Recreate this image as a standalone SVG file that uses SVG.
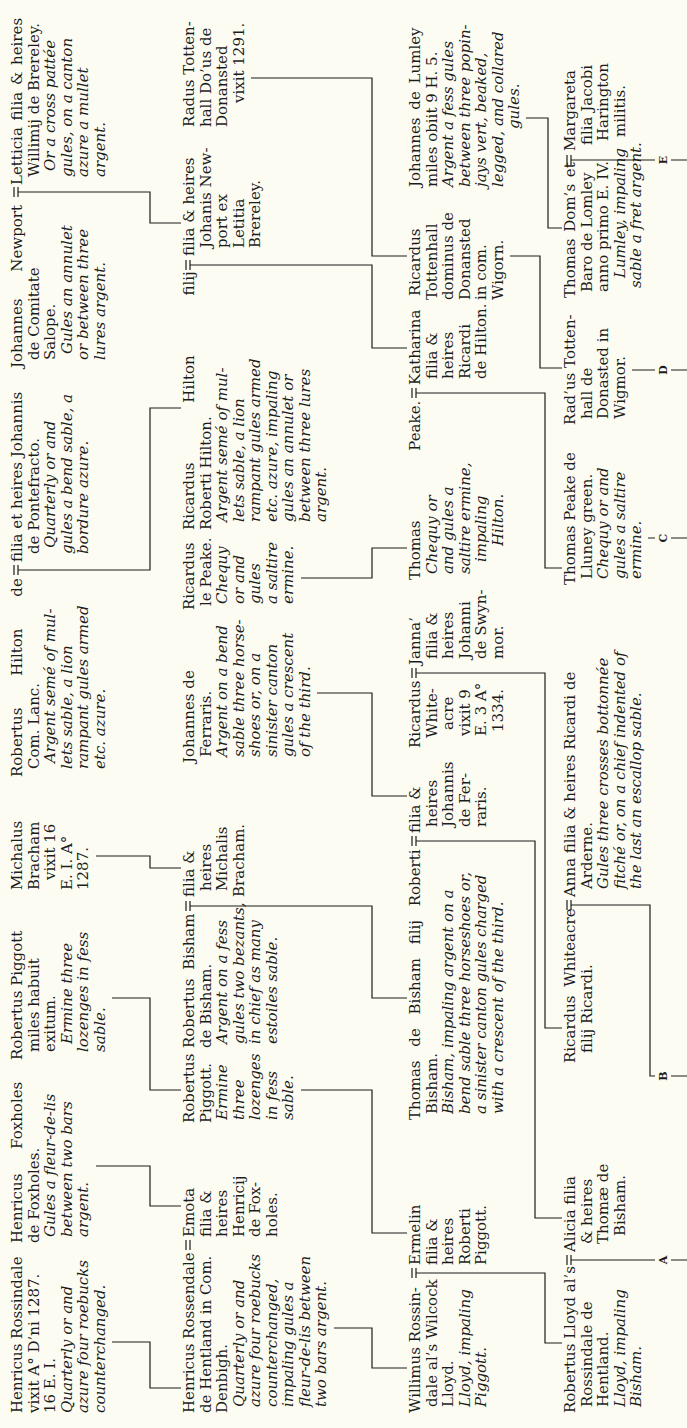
<svg xmlns="http://www.w3.org/2000/svg" xmlns:xlink="http://www.w3.org/1999/xlink" width="687" height="1428" viewBox="0 0 687 1428">
<style>
.r{font-family:"DejaVu Serif",serif;font-size:15px;fill:#1c1c1c}
.i{font-family:"DejaVu Serif",serif;font-size:15px;font-style:italic;fill:#1c1c1c}
.c{fill:none;stroke:#1c1c1c;stroke-width:1.2}
.l{font-family:"DejaVu Serif",serif;font-size:11px;font-weight:bold;fill:#1c1c1c;text-anchor:middle}
</style>
<defs>
<path id="m2" class="c" d="M-5,-8H5M-5,-4H5"/>
<path id="m3" class="c" d="M-5,-8H5M-5,-4H5M0,-4V2"/>
</defs>
<rect width="687" height="1428" fill="#fdfcf3"/>
<g transform="translate(0,1428) rotate(-90)">
<!-- Generation 1 -->
<g id="henricus-rossindale" transform="translate(15,22)">
<text class="r" x="0" y="0">Henricus Rossindale</text>
<text class="r" x="0" y="16.5">vixit A° D’ni 1287.</text>
<text class="r" x="0" y="33">16 E. I.</text>
<text class="i" x="0" y="49.5">Quarterly or and</text>
<text class="i" x="0" y="66">azure four roebucks</text>
<text class="i" x="0" y="82.5">counterchanged.</text>
</g>
<g id="henricus-foxholes" transform="translate(185,22)">
<text class="r" x="0" y="0" word-spacing="20">Henricus Foxholes</text>
<text class="r" x="0" y="16.5">de Foxholes.</text>
<text class="i" x="6" y="33">Gules a fleur-de-lis</text>
<text class="i" x="6" y="49.5">between two bars</text>
<text class="i" x="6" y="66">argent.</text>
</g>
<g id="robertus-piggott-senior" transform="translate(368,22)">
<text class="r" x="0" y="0">Robertus Piggott</text>
<text class="r" x="8" y="16.5">miles habuit</text>
<text class="r" x="8" y="33">exitum.</text>
<text class="i" x="16" y="49.5">Ermine three</text>
<text class="i" x="8" y="66">lozenges in fess</text>
<text class="i" x="8" y="82.5">sable.</text>
</g>
<g id="michalus-bracham" transform="translate(538,22)">
<text class="r" x="0" y="0">Michalus</text>
<text class="r" x="0" y="16.5">Bracham</text>
<text class="r" x="10" y="33">vixit 16</text>
<text class="r" x="0" y="49.5">E. I. A°</text>
<text class="r" x="0" y="66">1287.</text>
</g>
<g id="robertus-hilton" transform="translate(651,22)">
<text class="r" x="0" y="0" word-spacing="27">Robertus Hilton de</text>
<text class="r" x="8" y="16.5">Com. Lanc.</text>
<text class="i" x="14" y="33">Argent semé of mul-</text>
<text class="i" x="8" y="49.5">lets sable, a lion</text>
<text class="i" x="8" y="66">rampant gules armed</text>
<text class="i" x="8" y="82.5">etc. azure.</text>
</g>
<g id="filia-pontefracto" transform="translate(866,22)">
<text class="r" x="0" y="0">filia et heires Johannis</text>
<text class="r" x="8" y="16.5">de Pontefracto.</text>
<text class="i" x="14" y="33">Quarterly or and</text>
<text class="i" x="8" y="49.5">gules a bend sable, a</text>
<text class="i" x="8" y="66">bordure azure.</text>
</g>
<g id="johannes-newport" transform="translate(1060,22)">
<text class="r" x="0" y="0" word-spacing="22">Johannes Newport</text>
<text class="r" x="8" y="16.5">de Comitate</text>
<text class="r" x="8" y="33">Salope.</text>
<text class="i" x="14" y="49.5">Gules an annulet</text>
<text class="i" x="8" y="66">or between three</text>
<text class="i" x="8" y="82.5">lures argent.</text>
</g>
<g id="letticia" transform="translate(1243,22)">
<text class="r" x="0" y="0" word-spacing="2">Letticia filia &amp; heires</text>
<text class="r" x="8" y="16.5">Willimij de Brereley.</text>
<text class="i" x="14" y="33">Or a cross pattée</text>
<text class="i" x="8" y="49.5">gules, on a canton</text>
<text class="i" x="8" y="66">azure a mullet</text>
<text class="i" x="8" y="82.5">argent.</text>
</g>
<!-- Generation 2 -->
<g id="henricus-rossendale" transform="translate(15,194)">
<text class="r" x="0" y="0">Henricus Rossendale</text>
<text class="r" x="0" y="16.5">de Hentland in Com.</text>
<text class="r" x="0" y="33">Denbigh.</text>
<text class="i" x="6" y="49.5">Quarterly or and</text>
<text class="i" x="6" y="66">azure four roebucks</text>
<text class="i" x="6" y="82.5">counterchanged,</text>
<text class="i" x="6" y="99">impaling gules a</text>
<text class="i" x="6" y="115.5">fleur-de-lis between</text>
<text class="i" x="6" y="132">two bars argent.</text>
</g>
<g id="emota" transform="translate(191,194)">
<text class="r" x="0" y="0">Emota</text>
<text class="r" x="0" y="16.5">filia &amp;</text>
<text class="r" x="0" y="33">heires</text>
<text class="r" x="0" y="49.5">Henricij</text>
<text class="r" x="0" y="66">de Fox-</text>
<text class="r" x="0" y="82.5">holes.</text>
</g>
<g id="robertus-piggott" transform="translate(305,194)">
<text class="r" x="0" y="0">Robertus</text>
<text class="r" x="0" y="16.5">Piggott.</text>
<text class="i" x="3" y="33">Ermine</text>
<text class="i" x="3" y="49.5">three</text>
<text class="i" x="3" y="66">lozenges</text>
<text class="i" x="3" y="82.5">in fess</text>
<text class="i" x="3" y="99">sable.</text>
</g>
<g id="robertus-bisham" transform="translate(380,194)">
<text class="r" x="0" y="0" word-spacing="4">Robertus Bisham</text>
<text class="r" x="0" y="16.5">de Bisham.</text>
<text class="i" x="4" y="33">Argent on a fess</text>
<text class="i" x="4" y="49.5">gules two bezants,</text>
<text class="i" x="4" y="66">in chief as many</text>
<text class="i" x="4" y="82.5">estoiles sable.</text>
</g>
<g id="filia-michalis" transform="translate(531,194)">
<text class="r" x="0" y="0">filia &amp;</text>
<text class="r" x="6" y="16.5">heires</text>
<text class="r" x="6" y="33">Michalis</text>
<text class="r" x="0" y="49.5">Bracham.</text>
</g>
<g id="johannes-ferraris" transform="translate(665,194)">
<text class="r" x="0" y="0">Johannes de</text>
<text class="r" x="6" y="16.5">Ferraris.</text>
<text class="i" x="6" y="33">Argent on a bend</text>
<text class="i" x="6" y="49.5">sable three horse-</text>
<text class="i" x="6" y="66">shoes or, on a</text>
<text class="i" x="6" y="82.5">sinister canton</text>
<text class="i" x="6" y="99">gules a crescent</text>
<text class="i" x="6" y="115.5">of the third.</text>
</g>
<g id="ricardus-le-peake" transform="translate(818,194)">
<text class="r" x="0" y="0">Ricardus</text>
<text class="r" x="4" y="16.5">le Peake.</text>
<text class="i" x="6" y="33">Chequy</text>
<text class="i" x="6" y="49.5">or and</text>
<text class="i" x="6" y="66">gules</text>
<text class="i" x="6" y="82.5">a saltire</text>
<text class="i" x="6" y="99">ermine.</text>
</g>
<g id="ricardus-hilton" transform="translate(898,194)">
<text class="r" x="0" y="0" word-spacing="55">Ricardus Hilton filij</text>
<text class="r" x="0" y="16.5">Roberti Hilton.</text>
<text class="i" x="8" y="33">Argent semé of mul-</text>
<text class="i" x="8" y="49.5">lets sable, a lion</text>
<text class="i" x="8" y="66">rampant gules armed</text>
<text class="i" x="8" y="82.5">etc. azure, impaling</text>
<text class="i" x="8" y="99">gules an annulet or</text>
<text class="i" x="8" y="115.5">between three lures</text>
<text class="i" x="8" y="132">argent.</text>
</g>
<g id="filia-newport" transform="translate(1172,194)">
<text class="r" x="0" y="0">filia &amp; heires</text>
<text class="r" x="8" y="16.5">Johanis New-</text>
<text class="r" x="8" y="33">port ex</text>
<text class="r" x="8" y="49.5">Letitia</text>
<text class="r" x="8" y="66">Brereley.</text>
</g>
<g id="radus-tottenhall" transform="translate(1301,194)">
<text class="r" x="0" y="0">Radus Totten-</text>
<text class="r" x="0" y="16.5">hall Do’us de</text>
<text class="r" x="0" y="33">Donansted</text>
<text class="r" x="24" y="49.5">vixit 1291.</text>
</g>
<!-- Generation 3 -->
<g id="willimus-rossindale" transform="translate(15,420)">
<text class="r" x="0" y="0">Willimus Rossin-</text>
<text class="r" x="6" y="16.5">dale al’s Wilcock</text>
<text class="r" x="6" y="33">Lloyd.</text>
<text class="i" x="6" y="49.5">Lloyd, impaling</text>
<text class="i" x="6" y="66">Piggott.</text>
</g>
<g id="ermelin" transform="translate(163,420)">
<text class="r" x="0" y="0">Ermelin</text>
<text class="r" x="0" y="16.5">filia &amp;</text>
<text class="r" x="0" y="33">heires</text>
<text class="r" x="0" y="49.5">Roberti</text>
<text class="r" x="0" y="66">Piggott.</text>
</g>
<g id="thomas-de-bisham" transform="translate(308,420)">
<text class="r" x="0" y="0" word-spacing="9">Thomas de Bisham filij Roberti</text>
<text class="r" x="6" y="16.5">Bisham.</text>
<text class="i" x="6" y="33">Bisham, impaling argent on a</text>
<text class="i" x="6" y="49.5">bend sable three horseshoes or,</text>
<text class="i" x="6" y="66">a sinister canton gules charged</text>
<text class="i" x="6" y="82.5">with a crescent of the third.</text>
</g>
<g id="filia-ferraris" transform="translate(595,420)">
<text class="r" x="0" y="0">filia &amp;</text>
<text class="r" x="6" y="16.5">heires</text>
<text class="r" x="6" y="33">Johannis</text>
<text class="r" x="6" y="49.5">de Fer-</text>
<text class="r" x="6" y="66">raris.</text>
</g>
<g id="ricardus-whiteacre-senior" transform="translate(680,420)">
<text class="r" x="0" y="0">Ricardus</text>
<text class="r" x="10" y="16.5">White-</text>
<text class="r" x="18" y="33">acre</text>
<text class="r" x="12" y="49.5">vixit 9</text>
<text class="r" x="12" y="66">E. 3 A°</text>
<text class="r" x="16" y="82.5">1334.</text>
</g>
<g id="janna" transform="translate(763,420)">
<text class="r" x="0" y="0">Janna’</text>
<text class="r" x="6" y="16.5">filia &amp;</text>
<text class="r" x="6" y="33">heires</text>
<text class="r" x="6" y="49.5">Johanni</text>
<text class="r" x="6" y="66">de Swyn-</text>
<text class="r" x="6" y="82.5">mor.</text>
</g>
<g id="thomas-peake-senior" transform="translate(848,420)">
<text class="r" x="0" y="0" word-spacing="65">Thomas Peake.</text>
<text class="i" x="6" y="16.5">Chequy or</text>
<text class="i" x="6" y="33">and gules a</text>
<text class="i" x="6" y="49.5">saltire ermine,</text>
<text class="i" x="18" y="66">impaling</text>
<text class="i" x="34" y="82.5">Hilton.</text>
</g>
<g id="katharina" transform="translate(1043,420)">
<text class="r" x="0" y="0">Katharina</text>
<text class="r" x="6" y="16.5">filia &amp;</text>
<text class="r" x="6" y="33">heires</text>
<text class="r" x="6" y="49.5">Ricardi</text>
<text class="r" x="6" y="66">de Hilton.</text>
</g>
<g id="ricardus-tottenhall" transform="translate(1128,420)">
<text class="r" x="4" y="0">Ricardus</text>
<text class="r" x="0" y="16.5">Tottenhall</text>
<text class="r" x="0" y="33">dominus de</text>
<text class="r" x="0" y="49.5">Donansted</text>
<text class="r" x="0" y="66">in com.</text>
<text class="r" x="0" y="82.5">Wigorn.</text>
</g>
<g id="johannes-de-lumley" transform="translate(1241,420)">
<text class="r" x="0" y="0" word-spacing="3">Johannes de Lumley</text>
<text class="r" x="0" y="16.5">miles obiit 9 H. 5.</text>
<text class="i" x="0" y="33">Argent a fess gules</text>
<text class="i" x="0" y="49.5">between three popin-</text>
<text class="i" x="0" y="66">jays vert, beaked,</text>
<text class="i" x="0" y="82.5">legged, and collared</text>
<text class="i" x="58" y="99">gules.</text>
</g>
<!-- Generation 4 -->
<g id="robertus-lloyd" transform="translate(15,575)">
<text class="r" x="0" y="0">Robertus Lloyd al’s</text>
<text class="r" x="6" y="16.5">Rossindale de</text>
<text class="r" x="6" y="33">Hentland.</text>
<text class="i" x="6" y="49.5">Lloyd, impaling</text>
<text class="i" x="6" y="66">Bisham.</text>
</g>
<g id="alicia" transform="translate(176,575)">
<text class="r" x="0" y="0">Alicia filia</text>
<text class="r" x="8" y="16.5">&amp; heires</text>
<text class="r" x="8" y="33">Thomæ de</text>
<text class="r" x="16" y="49.5">Bisham.</text>
</g>
<g id="ricardus-whiteacre" transform="translate(365,575)">
<text class="r" x="0" y="0" word-spacing="4">Ricardus Whiteacre</text>
<text class="r" x="10" y="16.5">filij Ricardi.</text>
</g>
<g id="anna" transform="translate(531,575)">
<text class="r" x="0" y="0">Anna filia &amp; heires Ricardi de</text>
<text class="r" x="8" y="16.5">Arderne.</text>
<text class="i" x="8" y="33">Gules three crosses bottonnée</text>
<text class="i" x="8" y="49.5">fitché or, on a chief indented of</text>
<text class="i" x="8" y="66">the last an escallop sable.</text>
</g>
<g id="thomas-peake-de-lluney" transform="translate(843,575)">
<text class="r" x="0" y="0">Thomas Peake de</text>
<text class="r" x="6" y="16.5">Lluney green.</text>
<text class="i" x="6" y="33">Chequy or and</text>
<text class="i" x="6" y="49.5">gules a saltire</text>
<text class="i" x="6" y="66">ermine.</text>
</g>
<g id="radus-tottenhall-junior" transform="translate(1003,575)">
<text class="r" x="0" y="0">Rad’us Totten-</text>
<text class="r" x="6" y="16.5">hall de</text>
<text class="r" x="6" y="33">Donasted in</text>
<text class="r" x="6" y="49.5">Wigmor.</text>
</g>
<g id="thomas-doms" transform="translate(1130,575)">
<text class="r" x="0" y="0" word-spacing="2">Thomas Dom’s et</text>
<text class="r" x="6" y="16.5">Baro de Lomley</text>
<text class="r" x="6" y="33">anno primo E. IV.</text>
<text class="i" x="20" y="49.5">Lumley, impaling</text>
<text class="i" x="10" y="66">sable a fret argent.</text>
</g>
<g id="margareta" transform="translate(1277,575)">
<text class="r" x="0" y="0">Margareta</text>
<text class="r" x="6" y="16.5">filia Jacobi</text>
<text class="r" x="10" y="33">Harington</text>
<text class="r" x="14" y="49.5">militis.</text>
</g>
<!-- Marriage marks -->
<g id="marriages">
<use xlink:href="#m3" transform="translate(858,22)"/>
<use xlink:href="#m3" transform="translate(1236,22)"/>
<use xlink:href="#m2" transform="translate(183,194)"/>
<use xlink:href="#m3" transform="translate(522,194)"/>
<use xlink:href="#m3" transform="translate(1163,194)"/>
<use xlink:href="#m3" transform="translate(155,420)"/>
<use xlink:href="#m3" transform="translate(587,420)"/>
<use xlink:href="#m3" transform="translate(755,420)"/>
<use xlink:href="#m3" transform="translate(1035,420)"/>
<use xlink:href="#m3" transform="translate(168,575)"/>
<use xlink:href="#m3" transform="translate(523,575)"/>
<use xlink:href="#m3" transform="translate(1268,575)"/>
</g>
<!-- Connectors -->
<g id="connectors" class="c">
<path d="M86,112V150H40V181"/>
<path d="M262,96V150H222V181"/>
<path d="M430,112V150H338V181"/>
<path d="M572,96V150H560V181"/>
<path d="M858,24V150H1020V181"/>
<path d="M1236,24V150H1205V181"/>
<path d="M100,334V372H60V407"/>
<path d="M338,301V372H195V407"/>
<path d="M522,196V372H430V407"/>
<path d="M735,317V372H632V407"/>
<path d="M850,301V372H880V407"/>
<path d="M1163,196V372H1080V407"/>
<path d="M1350,251V372H1172V407"/>
<path d="M155,422V545H85V562"/>
<path d="M587,422V535H210V562"/>
<path d="M755,422V545H400V562"/>
<path d="M1035,422V545H860V562"/>
<path d="M1172,510V540H1060V562"/>
<path d="M1310,526V548H1200V562"/>
<path d="M168,577V655M168,671V687"/>
<path d="M523,577V650H352V655M352,671V687"/>
<path d="M890,648V655M890,671V687"/>
<path d="M1058,632V655M1058,671V687"/>
<path d="M1268,577V655M1268,671V687"/>
</g>
<g id="letters">
<text class="l" x="168" y="667">A</text>
<text class="l" x="352" y="667">B</text>
<text class="l" x="890" y="667">C</text>
<text class="l" x="1058" y="667">D</text>
<text class="l" x="1268" y="667">E</text>
</g>
</g>
</svg>
